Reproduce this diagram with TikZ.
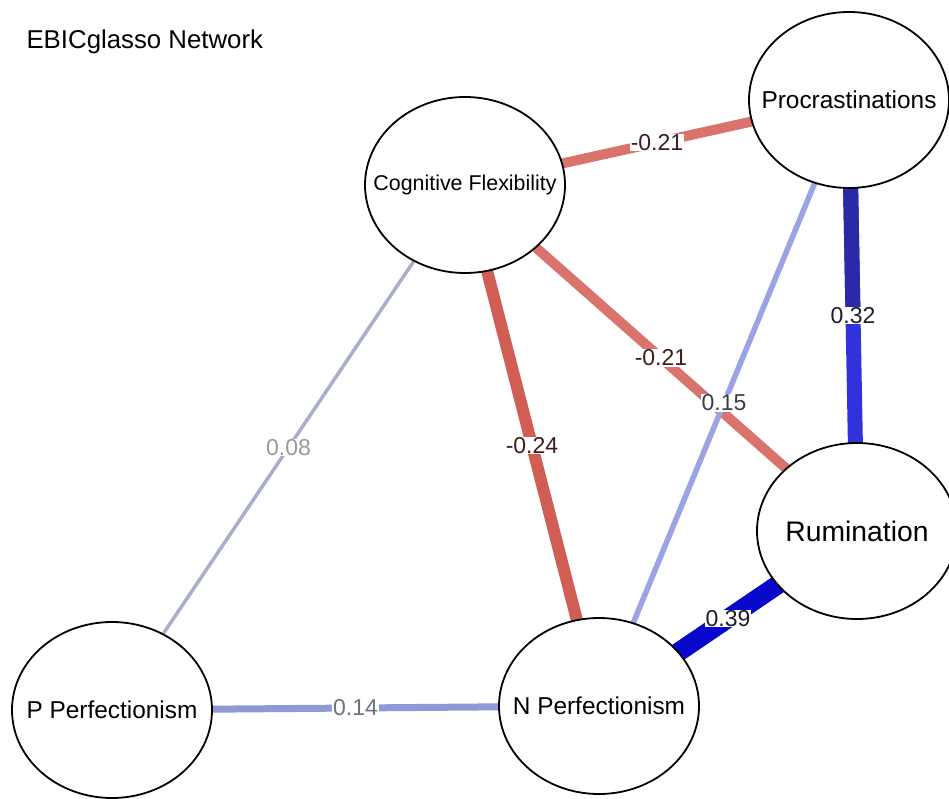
\documentclass[tikz,border=0pt]{standalone}
\usepackage{fontspec}
\setmainfont{Liberation Sans}
\usetikzlibrary{shapes.geometric}
\pgfdeclarelayer{bg}
\pgfsetlayers{bg,main}
\definecolor{redA}{HTML}{D9736C}
\definecolor{redB}{HTML}{D05E54}
\definecolor{navyA}{HTML}{2A2AA8}
\definecolor{blueA}{HTML}{3232DC}
\definecolor{blueB}{HTML}{0808CC}
\definecolor{lbA}{HTML}{9BA3E2}
\definecolor{lbB}{HTML}{8E99D8}
\definecolor{grA}{HTML}{A8B0C8}
\definecolor{labred}{HTML}{3E1C1C}
\definecolor{labblue}{HTML}{1C1C2C}
\definecolor{lab015}{HTML}{3A3D50}
\definecolor{lab014}{HTML}{6C7088}
\definecolor{lab008}{HTML}{9A9A9E}
\tikzset{
  vnode/.style={ellipse, draw=black, line width=1.8pt, fill=white,
    minimum width=200pt, minimum height=176pt, inner sep=0pt},
  elab/.style={fill=white, inner sep=0.8pt, font=\fontsize{23}{26}\selectfont},
  edgeline/.style={shorten <=-6pt, shorten >=-6pt}
}
\begin{document}
\begin{tikzpicture}[x=1pt,y=-1pt]
\useasboundingbox (0,0) rectangle (949,799);
\clip (0,0) rectangle (949,799);
\node[anchor=west, font=\fontsize{25.8}{30}\selectfont] (title) at (23,42) {EBICglasso Network};

\node[vnode, font=\fontsize{21.4}{25}\selectfont] (cf) at (465,185) {\makebox[0pt]{Cognitive Flexibility}};
\node[vnode, font=\fontsize{24.4}{28}\selectfont] (pro) at (849,100) {\makebox[0pt]{Procrastinations}};
\node[vnode, font=\fontsize{28.3}{32}\selectfont] (rum) at (857,531) {\makebox[0pt]{Rumination}};
\node[vnode, font=\fontsize{24.4}{28}\selectfont] (np) at (599,706) {\makebox[0pt]{N Perfectionism}};
\node[vnode, font=\fontsize{24.4}{28}\selectfont] (pp) at (112,710) {\makebox[0pt]{P Perfectionism}};

\begin{pgfonlayer}{bg}
\fill[white] (0,0) rectangle (949,799);
\draw[edgeline, grA, line width=3.5pt] (cf) -- (pp) coordinate[pos=0.5] (m008);
\draw[edgeline, lbB, line width=7pt] (pp) -- (np) coordinate[pos=0.5] (m014);
\draw[edgeline, redB, line width=12pt] (cf) -- (np) coordinate[pos=0.5] (m024);
\draw[edgeline, redA, line width=10pt] (cf) -- (pro) coordinate[pos=0.5] (m021a);
\draw[edgeline, redA, line width=10pt] (cf) -- (rum) coordinate[pos=0.5] (m021b);
\draw[edgeline, lbA, line width=5.5pt] (pro) -- (np) coordinate[pos=0.5] (m015);
\draw[edgeline, blueA, line width=15pt] (pro) -- (rum) coordinate[pos=0.5] (m032);
\draw[shorten <=-6pt, navyA, line width=15pt] (pro) -- (m032);
\draw[edgeline, blueB, line width=19pt] (np) -- (rum) coordinate[pos=0.5] (m039);

\node[elab, text=lab008] (l008) at (m008) {0.08};
\node[elab, text=lab014] (l014) at (m014) {0.14};
\node[elab, text=labred] (l024) at (m024) {-0.24};
\node[elab, text=labred] (l021a) at (m021a) {-0.21};
\node[elab, text=labred] (l021b) at (m021b) {-0.21};
\node[elab, text=lab015] (l015) at (m015) {0.15};
\node[elab, text=labblue] (l032) at (m032) {0.32};
\node[elab, text=labblue] (l039) at (m039) {0.39};
\end{pgfonlayer}
\end{tikzpicture}
\end{document}
